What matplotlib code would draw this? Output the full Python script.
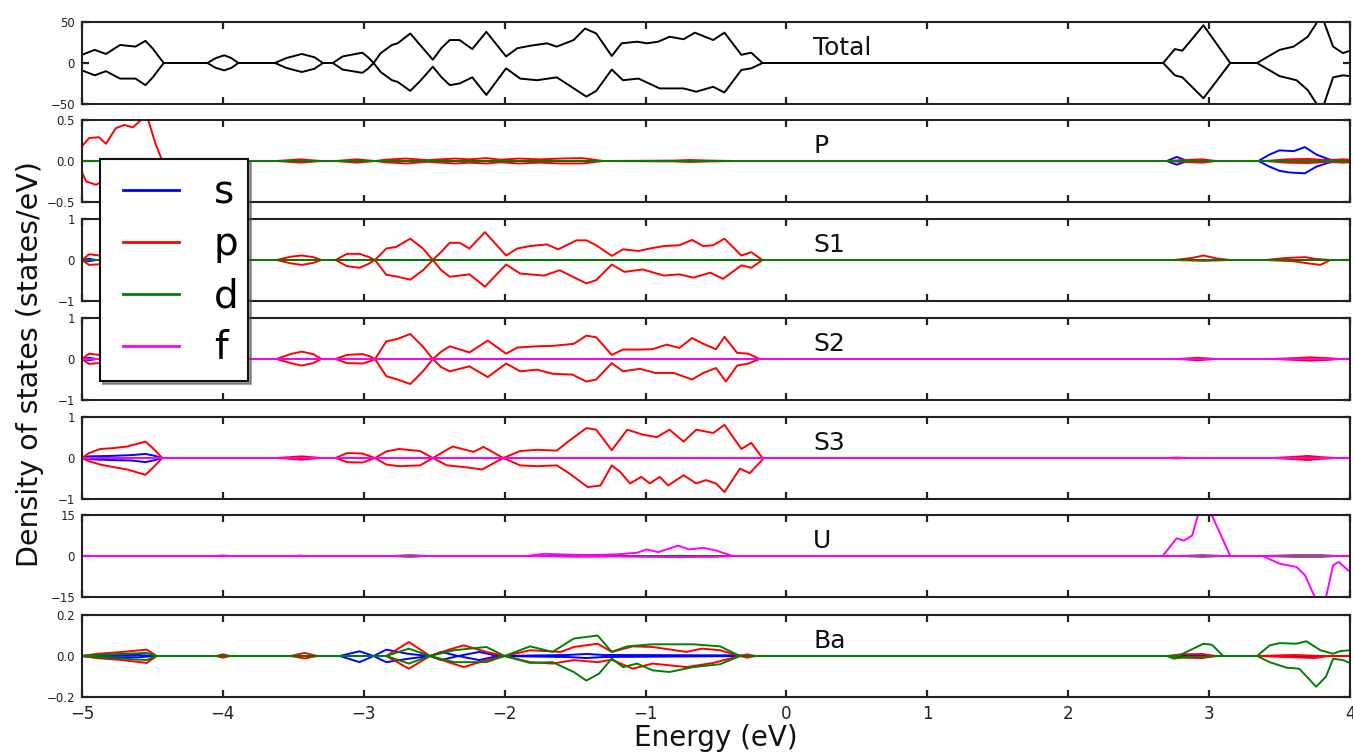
import matplotlib
matplotlib.use("Agg")
import matplotlib.pyplot as plt
from matplotlib.legend_handler import HandlerLine2D

# ---------------- data (energy eV, DOS) ----------------
TOTAL_UP = [(-5.0, 10), (-4.91, 16), (-4.83, 11), (-4.73, 22), (-4.62, 20), (-4.55, 27), (-4.50, 18), (-4.42, 0),
            (-4.11, 0), (-4.05, 6), (-3.99, 9.4), (-3.94, 6), (-3.89, 0),
            (-3.63, 0), (-3.55, 6), (-3.44, 11), (-3.35, 7), (-3.29, 0), (-3.22, 0), (-3.15, 8), (-3.01, 12.6),
            (-2.97, 7), (-2.93, 0), (-2.88, 12), (-2.80, 22), (-2.76, 24), (-2.67, 36), (-2.60, 22), (-2.51, 4),
            (-2.45, 18), (-2.39, 28), (-2.32, 28), (-2.23, 17), (-2.13, 38), (-1.99, 8), (-1.91, 18), (-1.82, 21),
            (-1.70, 24), (-1.63, 20), (-1.51, 28), (-1.43, 42), (-1.35, 36), (-1.24, 8.5), (-1.17, 24), (-1.06, 26),
            (-0.99, 24), (-0.91, 26), (-0.83, 32), (-0.73, 29), (-0.65, 37), (-0.52, 28), (-0.44, 37), (-0.32, 10),
            (-0.25, 12.6), (-0.17, 0), (2.674, 0), (2.757, 17), (2.81, 15), (2.96, 46), (3.15, 0), (3.34, 0),
            (3.50, 16), (3.60, 20), (3.70, 32), (3.76, 48), (3.79, 70), (3.82, 48), (3.88, 20), (3.95, 12), (4.0, 15)]
TOTAL_DN = [(-5.0, -9), (-4.91, -15), (-4.83, -10), (-4.73, -19), (-4.62, -19), (-4.55, -27), (-4.50, -18), (-4.42, 0),
            (-4.11, 0), (-4.05, -6), (-3.99, -9), (-3.94, -6), (-3.89, 0),
            (-3.63, 0), (-3.55, -6), (-3.44, -11), (-3.35, -7), (-3.29, 0), (-3.22, 0), (-3.15, -8), (-3.01, -12),
            (-2.97, -7), (-2.93, 0), (-2.88, -11), (-2.80, -21), (-2.76, -23), (-2.67, -34), (-2.60, -22), (-2.51, -4.5),
            (-2.45, -17), (-2.39, -27), (-2.32, -25), (-2.23, -17.5), (-2.13, -39), (-1.99, -6.5), (-1.89, -19),
            (-1.77, -21), (-1.63, -17.5), (-1.42, -41), (-1.35, -34), (-1.24, -8), (-1.16, -21), (-1.05, -19),
            (-0.90, -31), (-0.73, -31), (-0.64, -35), (-0.52, -29), (-0.44, -36), (-0.32, -8.5), (-0.25, -6.5),
            (-0.17, 0), (2.674, 0), (2.757, -15), (2.81, -17.5), (2.96, -43), (3.15, 0), (3.34, 0), (3.50, -16),
            (3.62, -21), (3.70, -33), (3.76, -49), (3.79, -70), (3.82, -48), (3.88, -17.5), (3.95, -15), (4.0, -16)]

P_S_UP = [(-5.0, 0), (2.70, 0), (2.77, 0.05), (2.83, 0.01), (2.88, 0), (3.35, 0), (3.43, 0.08), (3.50, 0.13),
          (3.60, 0.12), (3.68, 0.17), (3.76, 0.08), (3.85, 0.02), (3.93, 0), (4.0, 0.01)]
P_S_DN = [(-5.0, 0), (2.70, 0), (2.77, -0.045), (2.83, -0.01), (2.88, 0), (3.35, 0), (3.43, -0.07), (3.50, -0.12),
          (3.57, -0.14), (3.68, -0.15), (3.76, -0.07), (3.85, -0.02), (3.93, 0), (4.0, -0.01)]
P_P_UP = [(-5.0, 0.18), (-4.95, 0.28), (-4.88, 0.29), (-4.83, 0.21), (-4.76, 0.40), (-4.70, 0.44), (-4.64, 0.41),
          (-4.58, 0.50), (-4.555, 0.53), (-4.53, 0.50), (-4.48, 0.22), (-4.43, 0.0), (-3.62, 0), (-3.45, 0.02),
          (-3.30, 0), (-3.20, 0), (-3.05, 0.02), (-2.92, 0), (-2.85, 0.015), (-2.70, 0.03), (-2.55, 0.01),
          (-2.45, 0.02), (-2.35, 0.03), (-2.25, 0.02), (-2.13, 0.035), (-2.03, 0.015), (-1.90, 0.03), (-1.75, 0.02),
          (-1.60, 0.03), (-1.45, 0.035), (-1.30, 0), (-0.80, 0.005), (-0.68, 0.012), (-0.55, 0.005), (-0.35, 0),
          (2.70, 0), (2.80, 0.01), (2.95, 0.02), (3.05, 0), (3.40, 0), (3.55, 0.02), (3.70, 0.025), (3.85, 0.01),
          (3.95, 0.02), (4.0, 0.015)]
P_P_DN = [(-5.0, -0.14), (-4.97, -0.25), (-4.90, -0.29), (-4.83, -0.22), (-4.76, -0.40), (-4.70, -0.42),
          (-4.64, -0.40), (-4.56, -0.50), (-4.48, -0.22), (-4.43, 0), (-3.62, 0), (-3.45, -0.02), (-3.30, 0),
          (-3.20, 0), (-3.05, -0.02), (-2.92, 0), (-2.85, -0.015), (-2.70, -0.03), (-2.55, -0.01), (-2.45, -0.02),
          (-2.35, -0.03), (-2.25, -0.02), (-2.13, -0.03), (-2.03, -0.015), (-1.90, -0.03), (-1.75, -0.02),
          (-1.60, -0.03), (-1.45, -0.03), (-1.30, 0), (-0.80, -0.005), (-0.68, -0.012), (-0.55, -0.005), (-0.35, 0),
          (2.70, 0), (2.80, -0.01), (2.95, -0.02), (3.05, 0), (3.40, 0), (3.55, -0.02), (3.70, -0.025),
          (3.85, -0.01), (3.95, -0.02), (4.0, -0.015)]
P_D = [(-5.0, 0), (4.0, 0)]

S1_S_UP = [(-5.0, 0), (-4.95, 0.03), (-4.90, 0), (4.0, 0)]
S1_S_DN = [(-5.0, 0), (-4.95, -0.03), (-4.90, 0), (4.0, 0)]
S1_P_UP = [(-5.0, 0), (-4.95, 0.14), (-4.85, 0.10), (-4.60, 0.15), (-4.45, 0), (-3.62, 0), (-3.52, 0.08),
           (-3.44, 0.11), (-3.36, 0.07), (-3.30, 0), (-3.20, 0), (-3.12, 0.15), (-3.03, 0.15), (-2.97, 0.08),
           (-2.92, 0), (-2.84, 0.28), (-2.77, 0.32), (-2.67, 0.52), (-2.58, 0.28), (-2.51, 0), (-2.45, 0.2),
           (-2.39, 0.42), (-2.32, 0.42), (-2.25, 0.28), (-2.14, 0.68), (-1.99, 0.11), (-1.91, 0.28), (-1.82, 0.34),
           (-1.70, 0.38), (-1.62, 0.26), (-1.49, 0.48), (-1.42, 0.48), (-1.35, 0.36), (-1.24, 0.10), (-1.16, 0.26),
           (-1.05, 0.22), (-0.97, 0.28), (-0.87, 0.34), (-0.76, 0.36), (-0.67, 0.49), (-0.59, 0.34), (-0.52, 0.36),
           (-0.44, 0.52), (-0.32, 0.11), (-0.25, 0.19), (-0.17, 0), (2.75, 0), (2.88, 0.05), (2.96, 0.11),
           (3.05, 0.04), (3.15, 0), (3.40, 0), (3.55, 0.05), (3.62, 0.06), (3.68, 0.07), (3.75, 0.03), (3.86, 0),
           (4.0, 0)]
S1_P_DN = [(-5.0, 0), (-4.95, -0.12), (-4.85, -0.10), (-4.60, -0.14), (-4.45, 0), (-3.62, 0), (-3.52, -0.08),
           (-3.44, -0.12), (-3.36, -0.07), (-3.30, 0), (-3.20, 0), (-3.12, -0.15), (-3.03, -0.19), (-2.97, -0.10),
           (-2.92, 0), (-2.84, -0.36), (-2.77, -0.40), (-2.67, -0.48), (-2.58, -0.25), (-2.51, 0), (-2.45, -0.25),
           (-2.39, -0.41), (-2.25, -0.35), (-2.14, -0.65), (-1.99, -0.11), (-1.89, -0.33), (-1.72, -0.38),
           (-1.61, -0.25), (-1.42, -0.57), (-1.35, -0.49), (-1.24, -0.11), (-1.15, -0.29), (-1.02, -0.23),
           (-0.87, -0.38), (-0.76, -0.35), (-0.66, -0.43), (-0.54, -0.31), (-0.45, -0.46), (-0.32, -0.13),
           (-0.25, -0.19), (-0.17, 0), (2.75, 0), (2.96, -0.02), (3.15, 0), (3.40, 0), (3.60, -0.03), (3.70, -0.08),
           (3.79, -0.12), (3.86, 0), (4.0, 0)]
S1_D = [(-5.0, 0), (4.0, 0)]

S2_S_UP = [(-5.0, 0), (-4.95, 0.03), (-4.90, 0), (4.0, 0)]
S2_S_DN = [(-5.0, 0), (-4.95, -0.03), (-4.90, 0), (4.0, 0)]
S2_P_UP = [(-5.0, 0), (-4.95, 0.13), (-4.88, 0.10), (-4.60, 0.15), (-4.45, 0), (-3.62, 0), (-3.52, 0.12),
           (-3.44, 0.18), (-3.36, 0.12), (-3.30, 0), (-3.20, 0), (-3.12, 0.10), (-3.01, 0.12), (-2.96, 0.07),
           (-2.92, 0), (-2.84, 0.43), (-2.76, 0.49), (-2.67, 0.61), (-2.58, 0.30), (-2.51, 0), (-2.45, 0.18),
           (-2.39, 0.31), (-2.25, 0.16), (-2.12, 0.45), (-1.99, 0.13), (-1.91, 0.28), (-1.77, 0.31), (-1.66, 0.32),
           (-1.51, 0.37), (-1.42, 0.57), (-1.35, 0.53), (-1.24, 0.10), (-1.16, 0.23), (-1.04, 0.23), (-0.95, 0.24),
           (-0.85, 0.35), (-0.76, 0.27), (-0.67, 0.51), (-0.59, 0.37), (-0.50, 0.24), (-0.44, 0.54), (-0.35, 0.15),
           (-0.27, 0.13), (-0.19, 0), (2.78, 0), (2.92, 0.03), (3.05, 0), (3.45, 0), (3.60, 0.02), (3.72, 0.04),
           (3.85, 0.02), (3.92, 0), (4.0, 0)]
S2_P_DN = [(-5.0, 0), (-4.95, -0.12), (-4.88, -0.10), (-4.60, -0.14), (-4.45, 0), (-3.62, 0), (-3.52, -0.10),
           (-3.44, -0.16), (-3.36, -0.10), (-3.30, 0), (-3.20, 0), (-3.12, -0.10), (-3.01, -0.11), (-2.96, -0.06),
           (-2.92, 0), (-2.84, -0.42), (-2.76, -0.50), (-2.67, -0.61), (-2.58, -0.30), (-2.51, 0), (-2.45, -0.20),
           (-2.39, -0.30), (-2.25, -0.18), (-2.12, -0.44), (-1.99, -0.11), (-1.89, -0.30), (-1.77, -0.26),
           (-1.66, -0.36), (-1.52, -0.38), (-1.42, -0.55), (-1.35, -0.50), (-1.24, -0.10), (-1.16, -0.30),
           (-1.04, -0.24), (-0.93, -0.34), (-0.80, -0.34), (-0.67, -0.50), (-0.59, -0.34), (-0.50, -0.22),
           (-0.43, -0.55), (-0.35, -0.16), (-0.27, -0.11), (-0.19, 0), (2.78, 0), (2.92, -0.03), (3.05, 0),
           (3.45, 0), (3.60, -0.02), (3.72, -0.04), (3.85, -0.02), (3.92, 0), (4.0, 0)]
S2_D = [(-5.0, 0), (4.0, 0)]
S2_F = [(-5.0, 0), (4.0, 0)]

S3_S_UP = [(-5.0, 0), (-4.95, 0.04), (-4.80, 0.05), (-4.65, 0.07), (-4.55, 0.10), (-4.48, 0.05), (-4.43, 0), (4.0, 0)]
S3_S_DN = [(-5.0, 0), (-4.95, -0.03), (-4.80, -0.05), (-4.65, -0.06), (-4.55, -0.10), (-4.48, -0.05), (-4.43, 0),
           (4.0, 0)]
S3_P_UP = [(-5.0, 0), (-4.95, 0.12), (-4.87, 0.22), (-4.78, 0.24), (-4.68, 0.28), (-4.55, 0.40), (-4.50, 0.25),
           (-4.43, 0), (-3.62, 0), (-3.44, 0.04), (-3.30, 0), (-3.20, 0), (-3.12, 0.12), (-3.01, 0.11), (-2.92, 0),
           (-2.84, 0.16), (-2.75, 0.22), (-2.60, 0.17), (-2.51, 0), (-2.37, 0.28), (-2.22, 0.15), (-2.15, 0.27),
           (-2.01, 0), (-1.89, 0.17), (-1.77, 0.20), (-1.63, 0.18), (-1.55, 0.40), (-1.42, 0.73), (-1.35, 0.69),
           (-1.24, 0.19), (-1.13, 0.69), (-1.02, 0.57), (-0.92, 0.51), (-0.83, 0.69), (-0.73, 0.40), (-0.64, 0.69),
           (-0.52, 0.61), (-0.44, 0.81), (-0.32, 0.22), (-0.25, 0.37), (-0.17, 0), (2.70, 0), (2.77, 0.01),
           (2.85, 0), (3.45, 0), (3.62, 0.03), (3.70, 0.05), (3.80, 0.02), (3.90, 0), (4.0, 0)]
S3_P_DN = [(-5.0, 0), (-4.95, -0.08), (-4.87, -0.16), (-4.78, -0.22), (-4.68, -0.28), (-4.55, -0.41),
           (-4.50, -0.25), (-4.43, 0), (-3.62, 0), (-3.44, -0.04), (-3.30, 0), (-3.20, 0), (-3.12, -0.10),
           (-3.01, -0.11), (-2.92, 0), (-2.84, -0.16), (-2.75, -0.20), (-2.60, -0.18), (-2.51, 0), (-2.41, -0.18),
           (-2.29, -0.22), (-2.16, -0.28), (-2.01, 0), (-1.89, -0.18), (-1.77, -0.20), (-1.63, -0.18),
           (-1.54, -0.38), (-1.41, -0.71), (-1.32, -0.67), (-1.24, -0.18), (-1.18, -0.34), (-1.11, -0.62),
           (-1.03, -0.46), (-0.97, -0.62), (-0.90, -0.46), (-0.84, -0.67), (-0.73, -0.42), (-0.64, -0.62),
           (-0.57, -0.54), (-0.50, -0.62), (-0.44, -0.83), (-0.33, -0.26), (-0.26, -0.37), (-0.16, 0), (2.70, 0),
           (2.77, -0.01), (2.85, 0), (3.45, 0), (3.62, -0.03), (3.70, -0.05), (3.80, -0.02), (3.90, 0), (4.0, 0)]
S3_D = [(-5.0, 0), (4.0, 0)]
S3_F = [(-5.0, 0), (4.0, 0)]

U_D_UP = [(-5.0, 0), (-2.80, 0), (-2.67, 0.3), (-2.55, 0), (2.80, 0), (2.95, 0.3), (3.10, 0), (3.40, 0),
          (3.60, 0.3), (3.80, 0.3), (3.90, 0), (4.0, 0)]
U_D_DN = [(-5.0, 0), (-2.80, 0), (-2.67, -0.3), (-2.55, 0), (2.80, 0), (2.95, -0.3), (3.10, 0), (3.40, 0),
          (3.60, -0.3), (3.80, -0.3), (3.90, 0), (4.0, 0)]
U_F_UP = [(-5.0, 0), (-4.05, 0), (-4.0, 0.2), (-3.95, 0), (-3.50, 0), (-3.45, 0.15), (-3.40, 0), (-1.85, 0),
          (-1.72, 0.8), (-1.55, 0.5), (-1.36, 0.4), (-1.20, 0.6), (-1.06, 1.2), (-0.99, 2.4), (-0.91, 1.4),
          (-0.77, 3.8), (-0.69, 2.4), (-0.59, 3.0), (-0.50, 2.0), (-0.38, 0), (2.67, 0), (2.77, 6.5), (2.82, 5.6),
          (2.88, 7.5), (2.92, 14.8), (2.97, 20), (3.02, 14.8), (3.09, 6.9), (3.15, 0), (4.0, 0)]
U_F_DN = [(-5.0, 0), (-1.80, 0), (-1.50, -0.3), (-1.20, -0.2), (-0.80, -0.4), (-0.50, -0.3), (-0.38, 0),
          (3.38, 0), (3.50, -2.8), (3.62, -4.0), (3.68, -7.0), (3.75, -15), (3.78, -25), (3.81, -25), (3.83, -15),
          (3.88, -3.4), (3.92, -2.2), (4.0, -5.8)]

BA_S_UP = [(-5.0, 0), (-4.90, 0.005), (-4.60, 0.005), (-4.47, 0), (-3.17, 0), (-3.03, 0.023), (-2.93, 0),
           (-2.84, 0.031), (-2.68, 0.01), (-2.53, 0), (-2.45, 0.02), (-2.33, 0), (-2.18, 0.02), (-2.05, 0),
           (-1.55, 0.005), (-1.42, 0.01), (-1.30, 0.005), (-0.33, 0.003), (-0.25, 0), (4.0, 0)]
BA_S_DN = [(-5.0, 0), (-4.90, -0.005), (-4.60, -0.006), (-4.47, 0), (-3.17, 0), (-3.03, -0.03), (-2.93, 0),
           (-2.84, -0.03), (-2.68, -0.013), (-2.53, 0), (-2.45, -0.02), (-2.33, 0), (-2.18, -0.02), (-2.05, 0),
           (-1.55, -0.005), (-1.42, -0.01), (-1.30, -0.005), (-0.25, 0), (4.0, 0)]
BA_P_UP = [(-5.0, 0), (-4.90, 0.01), (-4.71, 0.02), (-4.54, 0.031), (-4.47, 0), (-4.05, 0), (-4.0, 0.008),
           (-3.95, 0), (-3.52, 0), (-3.42, 0.015), (-3.33, 0), (-2.84, 0), (-2.68, 0.068), (-2.53, 0),
           (-2.40, 0.03), (-2.29, 0.052), (-2.13, 0.02), (-2.0, 0), (-1.82, 0.028), (-1.60, 0.02), (-1.51, 0.044),
           (-1.34, 0.06), (-1.24, 0.02), (-1.09, 0.047), (-0.95, 0.044), (-0.71, 0.02), (-0.60, 0.036),
           (-0.47, 0.028), (-0.33, 0), (-0.28, 0.008), (-0.22, 0), (2.70, 0), (2.80, 0.008), (2.95, 0.01),
           (3.05, 0), (3.34, 0), (3.60, 0.005), (3.80, 0), (4.0, 0)]
BA_P_DN = [(-5.0, 0), (-4.90, -0.01), (-4.71, -0.02), (-4.54, -0.034), (-4.47, 0), (-4.05, 0), (-4.0, -0.008),
           (-3.95, 0), (-3.52, 0), (-3.42, -0.012), (-3.33, 0), (-2.84, 0), (-2.68, -0.062), (-2.53, 0),
           (-2.40, -0.03), (-2.29, -0.054), (-2.13, -0.02), (-2.0, 0), (-1.82, -0.03), (-1.66, -0.037),
           (-1.51, -0.02), (-1.34, -0.03), (-1.24, -0.018), (-1.09, -0.062), (-0.95, -0.037), (-0.71, -0.054),
           (-0.52, -0.034), (-0.33, 0), (-0.28, -0.008), (-0.22, 0), (2.70, 0), (2.80, -0.008), (2.95, -0.01),
           (3.05, 0), (3.34, 0), (3.75, -0.01), (3.85, 0), (4.0, 0)]
BA_D_UP = [(-5.0, 0), (-4.90, 0.005), (-4.54, 0.015), (-4.47, 0), (-2.84, 0), (-2.68, 0.036), (-2.53, 0),
           (-2.36, 0.028), (-2.13, 0.044), (-2.0, 0), (-1.82, 0.047), (-1.66, 0.02), (-1.51, 0.085), (-1.34, 0.10),
           (-1.24, 0.02), (-1.13, 0.047), (-0.95, 0.057), (-0.66, 0.057), (-0.47, 0.047), (-0.33, 0), (2.78, 0),
           (2.84, 0.02), (2.96, 0.06), (3.02, 0.055), (3.10, 0), (3.34, 0), (3.43, 0.052), (3.50, 0.063),
           (3.62, 0.06), (3.69, 0.072), (3.79, 0.028), (3.88, 0.011), (3.93, 0.024), (4.0, 0.028)]
BA_D_DN = [(-5.0, 0), (-4.90, -0.005), (-4.54, -0.02), (-4.47, 0), (-2.84, 0), (-2.68, -0.037), (-2.53, 0),
           (-2.36, -0.03), (-2.13, -0.03), (-2.0, 0), (-1.82, -0.034), (-1.66, -0.03), (-1.51, -0.078),
           (-1.42, -0.12), (-1.33, -0.086), (-1.24, -0.013), (-1.16, -0.054), (-1.06, -0.037), (-0.95, -0.07),
           (-0.83, -0.078), (-0.66, -0.054), (-0.47, -0.04), (-0.33, 0), (2.70, 0), (2.75, -0.013), (2.82, -0.005),
           (3.10, 0), (3.34, 0), (3.43, -0.03), (3.55, -0.057), (3.64, -0.062), (3.76, -0.15), (3.83, -0.10),
           (3.88, -0.013), (3.95, -0.02), (4.0, -0.034)]

PANEL_NAMES = ["Total", "P", "S1", "S2", "S3", "U", "Ba"]
PANEL_LIMITS = [50, 0.5, 1, 1, 1, 15, 0.2]
PANEL_TICKLABELS = [["\u221250", "0", "50"], ["\u22120.5", "0.0", "0.5"], ["\u22121", "0", "1"],
                    ["\u22121", "0", "1"], ["\u22121", "0", "1"], ["\u221215", "0", "15"],
                    ["\u22120.2", "0.0", "0.2"]]
X_TICKS = [-5, -4, -3, -2, -1, 0, 1, 2, 3, 4]
ORBITALS = ["s", "p", "d", "f"]
COLORS = {"s": "#0000ff", "p": "#ff0000", "d": "#008000", "f": "#ff00ff", "tot": "#000000"}

PANEL_CURVES = [
    [("tot", TOTAL_UP), ("tot", TOTAL_DN)],
    [("s", P_S_UP), ("s", P_S_DN), ("p", P_P_UP), ("p", P_P_DN), ("d", P_D)],
    [("s", S1_S_UP), ("s", S1_S_DN), ("p", S1_P_UP), ("p", S1_P_DN), ("d", S1_D)],
    [("s", S2_S_UP), ("s", S2_S_DN), ("p", S2_P_UP), ("p", S2_P_DN), ("d", S2_D), ("f", S2_F)],
    [("s", S3_S_UP), ("s", S3_S_DN), ("p", S3_P_UP), ("p", S3_P_DN), ("d", S3_D), ("f", S3_F)],
    [("d", U_D_UP), ("d", U_D_DN), ("f", U_F_UP), ("f", U_F_DN)],
    [("s", BA_S_UP), ("s", BA_S_DN), ("p", BA_P_UP), ("p", BA_P_DN), ("d", BA_D_UP), ("d", BA_D_DN)],
]

# ---------------- layout ----------------
W, H = 1353, 752
fig = plt.figure(figsize=(W / 100, H / 100), dpi=100)
left_px, right_px = 82, 1350
tops_px = [22, 120, 219, 318, 417, 515, 615]
panel_h = 82
spine_col = "#222222"

handles = {}
axes = []
for i, name in enumerate(PANEL_NAMES):
    bottom = 1 - (tops_px[i] + panel_h) / H
    ax = fig.add_axes([left_px / W, bottom, (right_px - left_px) / W, panel_h / H])
    axes.append(ax)
    for orb, pts in PANEL_CURVES[i]:
        xs = [p[0] for p in pts]
        ys = [p[1] for p in pts]
        ln, = ax.plot(xs, ys, color=COLORS[orb], lw=1.4, solid_joinstyle="round")
        if orb in ORBITALS and orb not in handles:
            handles[orb] = ln
    lim = PANEL_LIMITS[i]
    ax.set_xlim(-5, 4)
    ax.set_ylim(-lim, lim)
    ax.set_yticks([-lim, 0, lim])
    ax.set_yticklabels(PANEL_TICKLABELS[i])
    ax.set_xticks(X_TICKS)
    ax.tick_params(axis="both", which="major", direction="in", length=5, width=1.6,
                   top=True, right=True, colors=spine_col)
    ax.tick_params(axis="y", labelsize=8.5, pad=5)
    ax.tick_params(axis="x", labelsize=12, pad=6)
    if i < len(PANEL_NAMES) - 1:
        ax.set_xticklabels([])
    else:
        ax.set_xticklabels([("\u2212" + str(-t)) if t < 0 else str(t) for t in X_TICKS])
    for sp in ax.spines.values():
        sp.set_linewidth(1.5)
        sp.set_color(spine_col)
    ax.text(0.19, 0.60, name, transform=ax.get_xaxis_transform(), fontsize=18,
            ha="left", va="baseline", color="#111111")

fig.text(0.022, 1 - 364 / H, "Density of states (states/eV)", rotation=90,
         ha="center", va="center", fontsize=20.5, color="#111111")
fig.text((left_px + right_px) / 2 / W, 1 - 738 / H, "Energy (eV)",
         ha="center", va="center", fontsize=20, color="#111111")

leg = fig.legend([handles[o] for o in ORBITALS], ORBITALS, loc="upper left",
                 bbox_to_anchor=(100 / W, 1 - 160 / H, 148 / W, 0.001), mode="expand",
                 fontsize=28, handlelength=1.67, handletextpad=0.9, labelspacing=0.36,
                 borderpad=0.36, borderaxespad=0.0, fancybox=False, shadow=True,
                 framealpha=1.0, edgecolor="#111111",
                 handler_map={ln.__class__: HandlerLine2D(xpad=0.22)})
leg.get_frame().set_linewidth(1.5)
for l in leg.get_lines():
    l.set_linewidth(2.0)

fig.savefig("out.png", dpi=100)
